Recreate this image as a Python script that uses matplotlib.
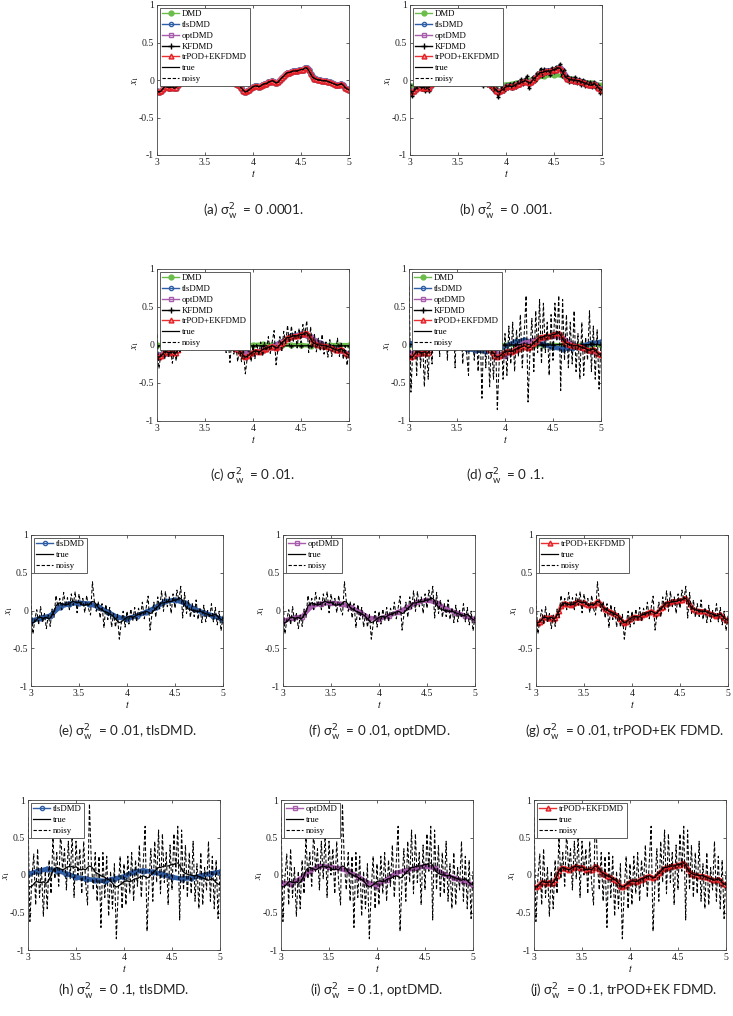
import numpy as np
import matplotlib
matplotlib.use("Agg")
import matplotlib.pyplot as plt
from matplotlib.lines import Line2D

# ---------------- data ----------------
t = np.linspace(3.0, 5.0, 101)      # fine time grid (step 0.02)
tc = np.linspace(3.0, 5.0, 21)      # coarse time grid (step 0.1)

true_x1 = [-0.15, -0.16, -0.15, -0.12, -0.09, -0.09, -0.10, -0.10, -0.09, -0.11,
           -0.10, -0.06, -0.01, 0.06, 0.09, 0.10, 0.09, 0.08, 0.07, 0.08,
           0.10, 0.11, 0.12, 0.11, 0.10, 0.11, 0.09, 0.07, 0.07, 0.08,
           0.07, 0.10, 0.12, 0.11, 0.08, 0.04, 0.02, 0.01, -0.01, -0.02,
           -0.03, -0.05, -0.06, -0.08, -0.11, -0.14, -0.16, -0.15, -0.13, -0.11,
           -0.09, -0.08, -0.08, -0.09, -0.08, -0.06, -0.05, -0.05, -0.03, -0.02,
           -0.01, -0.02, -0.04, -0.03, 0.00, 0.03, 0.05, 0.08, 0.10, 0.10,
           0.11, 0.12, 0.12, 0.12, 0.13, 0.14, 0.14, 0.16, 0.16, 0.13,
           0.08, 0.04, 0.02, 0.01, 0.00, 0.00, -0.01, -0.01, -0.01, -0.02,
           -0.03, -0.04, -0.05, -0.06, -0.07, -0.06, -0.05, -0.07, -0.10, -0.12,
           -0.13]

noisy_001 = [-0.06, -0.21, -0.14, -0.08, -0.12, -0.05, -0.12, -0.08, -0.14, -0.09,
             -0.14, -0.03, -0.03, 0.10, 0.08, 0.12, 0.07, 0.13, 0.07, 0.11,
             0.07, 0.14, 0.10, 0.15, 0.06, 0.14, 0.08, 0.10, 0.04, 0.12,
             0.05, 0.05, 0.20, 0.11, 0.05, 0.07, -0.02, 0.03, -0.08, 0.01,
             -0.06, -0.02, -0.11, -0.07, -0.14, -0.11, -0.23, -0.16, -0.09, -0.14,
             -0.07, -0.11, -0.05, -0.11, -0.04, -0.09, -0.02, -0.06, 0.01, -0.05,
             0.01, 0.05, -0.11, -0.04, 0.04, -0.01, 0.09, 0.06, 0.15, 0.06,
             0.15, 0.10, 0.14, 0.07, 0.16, 0.11, 0.18, 0.15, 0.21, 0.06,
             0.13, 0.02, 0.06, -0.02, 0.03, -0.03, 0.04, -0.04, 0.01, -0.06,
             0.00, -0.08, -0.03, -0.07, -0.02, -0.09, -0.02, -0.11, -0.07, -0.17,
             -0.11]

noisy_01 = [0.14, -0.31, -0.12, 0.01, -0.19, 0.05, -0.16, -0.04, -0.24, -0.06,
            -0.21, 0.02, -0.09, 0.20, 0.05, 0.16, 0.01, 0.24, 0.06, 0.17,
            0.01, 0.22, 0.07, 0.25, -0.03, 0.22, 0.06, 0.16, -0.03, 0.20,
            0.02, -0.06, 0.38, 0.12, -0.01, 0.12, -0.10, 0.09, -0.23, 0.08,
            -0.12, 0.04, -0.22, -0.04, -0.22, -0.05, -0.38, -0.17, -0.01, -0.22,
            -0.01, -0.18, 0.02, -0.14, 0.04, -0.15, 0.03, -0.08, 0.11, -0.11,
            0.04, 0.19, -0.26, -0.05, 0.11, -0.09, 0.18, 0.02, 0.26, -0.01,
            0.25, 0.05, 0.18, -0.04, 0.22, 0.03, 0.27, 0.13, 0.32, -0.10,
            0.24, -0.04, 0.14, -0.09, 0.09, -0.08, 0.14, -0.12, 0.04, -0.16,
            0.07, -0.15, 0.00, -0.10, 0.09, -0.15, 0.04, -0.19, -0.01, -0.27,
            -0.07]

noisy_1 = [0.77, -0.62, -0.05, 0.28, -0.40, 0.35, -0.30, 0.10, -0.55, 0.05,
           -0.45, 0.20, -0.25, 0.50, -0.05, 0.30, -0.15, 0.60, 0.05, 0.35,
           -0.20, 0.45, -0.05, 0.55, -0.30, 0.45, 0.00, 0.35, -0.25, 0.45,
           -0.10, -0.40, 0.95, 0.15, -0.20, 0.30, -0.35, 0.25, -0.70, 0.30,
           -0.30, 0.25, -0.55, 0.05, -0.45, 0.15, -0.85, -0.20, 0.25, -0.45,
           0.15, -0.40, 0.25, -0.25, 0.30, -0.35, 0.20, -0.15, 0.40, -0.30,
           0.15, 0.65, -0.75, -0.10, 0.35, -0.35, 0.45, -0.10, 0.60, -0.25,
           0.55, -0.10, 0.30, -0.40, 0.40, -0.20, 0.55, 0.05, 0.65, -0.60,
           0.60, -0.20, 0.40, -0.30, 0.30, -0.25, 0.45, -0.35, 0.15, -0.45,
           0.30, -0.40, 0.10, -0.20, 0.45, -0.35, 0.25, -0.45, 0.20, -0.58,
           0.05]

dmd_b = [-0.08, -0.06, -0.04, 0.03, 0.05, 0.06, 0.05, 0.03, -0.02, -0.06,
         -0.06, -0.04, -0.01, 0.02, 0.05, 0.07, 0.05, 0.01, -0.02, -0.04, -0.07]
dmd_c = [0.00, 0.00, -0.01, 0.00, 0.01, 0.00, -0.01, 0.00, 0.00, 0.00,
         0.00, 0.01, 0.00, 0.00, 0.00, 0.00, -0.01, 0.00, 0.00, 0.00, 0.00]
kf_c = [-0.01, -0.01, -0.02, -0.01, -0.01, -0.01, -0.02, -0.01, -0.01, -0.01,
        -0.01, -0.01, -0.01, -0.01, -0.01, -0.01, -0.01, -0.01, -0.01, -0.01, -0.01]
dmd_d = [0.00, 0.00, 0.00, 0.00, 0.00, 0.00, 0.00, 0.00, 0.00, 0.00,
         0.00, 0.00, 0.00, 0.00, 0.00, 0.00, 0.00, 0.00, 0.00, 0.00, 0.00]
kf_d = [0.01, 0.00, 0.01, 0.00, 0.00, 0.01, 0.00, 0.00, 0.01, 0.00,
        0.00, 0.00, 0.01, 0.00, 0.00, 0.00, 0.01, 0.00, 0.00, 0.01, 0.00]
tls_01 = [-0.14, -0.10, -0.07, 0.05, 0.09, 0.10, 0.09, 0.05, -0.02, -0.09,
          -0.11, -0.07, -0.02, 0.04, 0.12, 0.14, 0.10, 0.02, -0.03, -0.07, -0.12]
opt_01 = [-0.14, -0.10, -0.08, 0.06, 0.09, 0.10, 0.09, 0.05, -0.02, -0.10,
          -0.11, -0.07, -0.02, 0.04, 0.11, 0.14, 0.10, 0.02, -0.03, -0.07, -0.12]
tls_1 = [0.01, 0.05, 0.08, 0.06, 0.02, -0.03, -0.05, -0.07, -0.08, -0.05,
         -0.02, 0.04, 0.06, 0.04, 0.01, -0.03, -0.05, -0.04, -0.01, 0.02, 0.04]
opt_1 = [-0.10, -0.12, -0.05, 0.05, 0.12, 0.11, 0.09, 0.05, -0.02, -0.10,
         -0.14, -0.06, 0.03, 0.06, 0.09, 0.12, 0.09, 0.01, -0.04, -0.08, -0.13]

xticks = [3, 3.5, 4, 4.5, 5]
xticklabels = ["3", "3.5", "4", "4.5", "5"]
yticks = [-1, -0.5, 0, 0.5, 1]
yticklabels = ["-1", "-0.5", "0", "0.5", "1"]

SW = r"σ$^{2}_{\mathregular{w}}$"
captions = {
    "a": "(a) " + SW + "  = 0 .0001.",
    "b": "(b) " + SW + "  = 0 .001.",
    "c": "(c) " + SW + "  = 0 .01.",
    "d": "(d) " + SW + "  = 0 .1.",
    "e": "(e) " + SW + "  = 0 .01, tlsDMD.",
    "f": "(f) " + SW + "  = 0 .01, optDMD.",
    "g": "(g) " + SW + "  = 0 .01, trPOD+EK FDMD.",
    "h": "(h) " + SW + "  = 0 .1, tlsDMD.",
    "i": "(i) " + SW + "  = 0 .1, optDMD.",
    "j": "(j) " + SW + "  = 0 .1, trPOD+EK FDMD.",
}

# ---------------- styles ----------------
plt.rcParams["font.family"] = ["Liberation Serif", "DejaVu Serif"]

STY = {
    "DMD": dict(color="#6cbd4c", marker="o", mfc="#6cbd4c", mec="#6cbd4c", ms=3.5, lw=3.0),
    "tlsDMD": dict(color="#2f5ea6", marker="o", mfc="none", mec="#2f5ea6", ms=3.5, lw=3.4),
    "optDMD": dict(color="#a85cac", marker="s", mfc="none", mec="#a85cac", ms=3.2, lw=3.2),
    "KFDMD": dict(color="black", marker="+", mfc="black", mec="black", ms=3.5, lw=0.9),
    "trPOD+EKFDMD": dict(color="#f06060", marker="^", mfc="#f39a9a", mec="#e41f26", ms=3.2, lw=2.8),
    "true": dict(color="black", lw=0.9),
    "noisy": dict(color="black", lw=0.75, ls=(0, (3.5, 2))),
}
LEG = {
    "DMD": dict(color="#6cbd4c", marker="o", mfc="#6cbd4c", mec="#6cbd4c", ms=3.5, lw=1.0),
    "tlsDMD": dict(color="#2f5ea6", marker="o", mfc="none", mec="#2f5ea6", ms=3.0, lw=1.0),
    "optDMD": dict(color="#a85cac", marker="s", mfc="none", mec="#a85cac", ms=3.0, lw=1.0),
    "KFDMD": dict(color="black", marker="+", mec="black", ms=4, lw=1.0),
    "trPOD+EKFDMD": dict(color="#e83030", marker="^", mfc="#f39a9a", mec="#e41f26", ms=3.5, lw=1.0),
    "true": dict(color="black", lw=0.9),
    "noisy": dict(color="black", lw=0.8, ls=(0, (3, 1.6))),
}

W, H = 733, 1016
fig = plt.figure(figsize=(W / 100, H / 100), dpi=100)


def make_ax(left, top, w, h):
    return fig.add_axes([left / W, 1 - (top + h) / H, w / W, h / H])


def panel(left, top, h, series, legend_keys, cap_key, cap_y, cap_x=None):
    ax = make_ax(left, top, 192, h)
    for key, tx, yv in series:
        ax.plot(tx, yv, **STY[key])
    ax.set_xlim(3, 5)
    ax.set_ylim(-1, 1)
    ax.set_xticks(xticks)
    ax.set_xticklabels(xticklabels)
    ax.set_yticks(yticks)
    ax.set_yticklabels(yticklabels)
    ax.tick_params(direction="in", length=2.5, width=0.5, top=True, right=True,
                   labelsize=7, pad=2, colors="#222222")
    for sp in ax.spines.values():
        sp.set_linewidth(0.6)
        sp.set_color("#444444")
    ax.set_xlabel(r"$t$", fontsize=7, labelpad=1, math_fontfamily="stix")
    ax.set_ylabel(r"$x_1$", fontsize=7, math_fontfamily="stix")
    ax.yaxis.set_label_coords(-0.085, 0.5)
    handles = [Line2D([], [], **LEG[k]) for k in legend_keys]
    leg = ax.legend(handles, legend_keys, loc="upper left", fontsize=6.3,
                    handlelength=1.9, labelspacing=0.3, borderpad=0.3,
                    handletextpad=0.35, borderaxespad=0.3, fancybox=False,
                    framealpha=1, edgecolor="#444444")
    leg.get_frame().set_linewidth(0.6)
    cx = left + 96 if cap_x is None else cap_x
    fig.text(cx / W, 1 - cap_y / H, captions[cap_key], ha="center",
             va="center", fontsize=9.6, family=["Lato", "DejaVu Sans"],
             math_fontfamily="dejavusans", color="#222222")
    return ax


ALL = ["DMD", "tlsDMD", "optDMD", "KFDMD", "trPOD+EKFDMD", "true", "noisy"]

# row 1
panel(157, 5, 150, [("DMD", t, true_x1), ("tlsDMD", t, true_x1), ("optDMD", t, true_x1),
                    ("KFDMD", t, true_x1), ("trPOD+EKFDMD", t, true_x1),
                    ("true", t, true_x1), ("noisy", t, true_x1)], ALL, "a", 212)
panel(410, 5, 150, [("DMD", tc, dmd_b), ("tlsDMD", t, true_x1), ("optDMD", t, true_x1),
                    ("KFDMD", t, noisy_001), ("trPOD+EKFDMD", t, true_x1),
                    ("true", t, true_x1), ("noisy", t, noisy_001)], ALL, "b", 212)
# row 2
panel(157, 269, 152, [("DMD", tc, dmd_c), ("tlsDMD", tc, tls_01), ("optDMD", tc, opt_01),
                      ("KFDMD", tc, kf_c), ("trPOD+EKFDMD", t, true_x1),
                      ("true", t, true_x1), ("noisy", t, noisy_01)], ALL, "c", 477)
panel(409, 269, 152, [("DMD", tc, dmd_d), ("tlsDMD", tc, tls_1), ("optDMD", tc, opt_1),
                      ("KFDMD", tc, kf_d), ("trPOD+EKFDMD", t, true_x1),
                      ("true", t, true_x1), ("noisy", t, noisy_1)], ALL, "d", 477)
# row 3
panel(31, 535, 151, [("tlsDMD", tc, tls_01), ("true", t, true_x1), ("noisy", t, noisy_01)],
      ["tlsDMD", "true", "noisy"], "e", 733)
panel(283, 535, 151, [("optDMD", tc, opt_01), ("true", t, true_x1), ("noisy", t, noisy_01)],
      ["optDMD", "true", "noisy"], "f", 733)
panel(536, 535, 151, [("trPOD+EKFDMD", t, true_x1), ("true", t, true_x1), ("noisy", t, noisy_01)],
      ["trPOD+EKFDMD", "true", "noisy"], "g", 733, cap_x=624)
# row 4
panel(28, 800, 150, [("tlsDMD", tc, tls_1), ("true", t, true_x1), ("noisy", t, noisy_1)],
      ["tlsDMD", "true", "noisy"], "h", 992)
panel(281, 800, 150, [("optDMD", tc, opt_1), ("true", t, true_x1), ("noisy", t, noisy_1)],
      ["optDMD", "true", "noisy"], "i", 992)
panel(534, 800, 150, [("trPOD+EKFDMD", t, true_x1), ("true", t, true_x1), ("noisy", t, noisy_1)],
      ["trPOD+EKFDMD", "true", "noisy"], "j", 992, cap_x=624)

fig.savefig("out.png", dpi=100)
